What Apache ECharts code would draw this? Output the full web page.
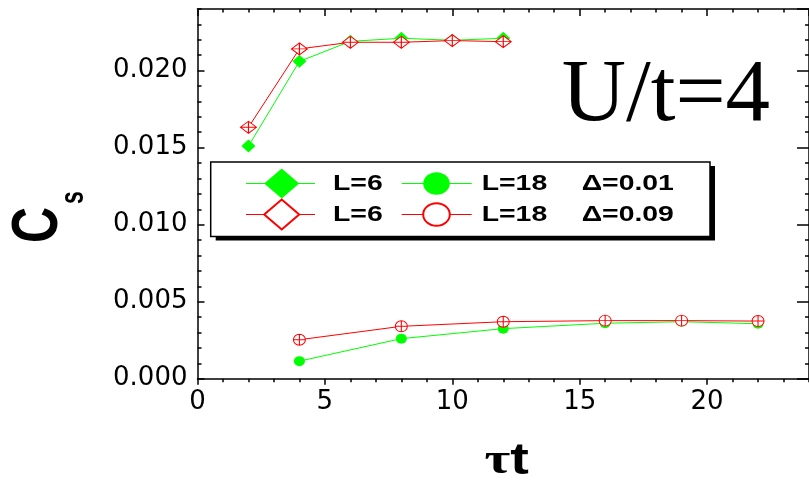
<!DOCTYPE html>
<html>
<head>
<meta charset="utf-8">
<script src="https://cdn.jsdelivr.net/npm/echarts@6/dist/echarts.min.js"></script>
<style>
  html, body { margin: 0; padding: 0; background: #fff; }
  #chart { width: 809px; height: 481px; }
</style>
</head>
<body>
<div id="chart"></div>
<script>
// Imaginary-time steps (tau*t) for the two lattice sizes
const tauL6  = [2, 4, 6, 8, 10, 12];
const tauL18 = [4, 8, 12, 16, 19, 22];

// Pairing correlation C_s, L=6
const csL6Delta001 = [0.0151, 0.0206, 0.0219, 0.0221, 0.02197, 0.0221];
const csL6Delta009 = [0.01632, 0.02141, 0.02184, 0.02184, 0.02195, 0.02188];

// Pairing correlation C_s, L=18
const csL18Delta001 = [0.00114, 0.0026, 0.00325, 0.0036, 0.0037, 0.00357];
const csL18Delta009 = [0.00253, 0.0034, 0.0037, 0.00377, 0.00377, 0.00374];

// Legend text
const sizeLabels  = ['L=6', 'L=18'];
const deltaLabels = ['\u0394=0.01', '\u0394=0.09'];
const annotation  = 'U/t=4';

const GREEN = '#00ff00';
const RED = '#ff0000';
const LABEL_FONT = 'DejaVu Sans';

const xMin = 0, xMax = 24, yMin = 0, yMax = 0.024;

function pairs(xs, ys) { return xs.map((x, i) => [x, ys[i]]); }

function xAxisDef(position, interval, tickLen, inside, labels, line) {
  return {
    type: 'value', position, min: xMin, max: xMax, interval,
    axisLine: { show: line, onZero: false, lineStyle: { color: '#000', width: 1.5 } },
    axisTick: { show: true, inside, length: tickLen, lineStyle: { color: '#000', width: 1.5 } },
    axisLabel: labels ? {
      show: true, margin: 11, color: '#000', fontFamily: LABEL_FONT, fontSize: 26,
      showMaxLabel: false,
      formatter: v => (Math.abs(v % 5) < 1e-9 ? String(v) : '')
    } : { show: false },
    splitLine: { show: false }
  };
}

function yAxisDef(position, interval, tickLen, labels, line) {
  return {
    type: 'value', position, min: yMin, max: yMax, interval,
    axisLine: { show: line, onZero: false, lineStyle: { color: '#000', width: 1.5 } },
    axisTick: { show: true, inside: true, length: tickLen, lineStyle: { color: '#000', width: 1.5 } },
    axisLabel: labels ? {
      show: true, margin: 10, color: '#000', fontFamily: LABEL_FONT, fontSize: 26,
      padding: [0, 0, 4, 0],
      showMaxLabel: false,
      formatter: v => {
        const k = Math.round(v / 0.005);
        return Math.abs(v - k * 0.005) < 1e-9 ? v.toFixed(3) : '';
      }
    } : { show: false },
    splitLine: { show: false }
  };
}

// Symbol outlines with an inner cross (error-bar look)
const diamondCross = 'path://M8,0 L16,6 L8,12 L0,6 Z M0,6 L16,6 M8,0 L8,12';
const circleCross  = 'path://M0,6 A6,6 0 1 1 12,6 A6,6 0 1 1 0,6 Z M0,6 L12,6 M6,0 L6,12';

const chart = echarts.init(document.getElementById('chart'), null, { renderer: 'canvas' });

// Legend, drawn as a framed box with a drop shadow
const legX = 210.7, legY = 162, legW = 499.3, legH = 74.5;
const rowY = [183.5, 214.5];
const legendFont = 'bold 22px "Liberation Sans", Arial, sans-serif';
const legendGraphics = [
  { type: 'rect', z: 100, shape: { x: legX + 5, y: legY + 4, width: legW, height: legH }, style: { fill: '#000' } },
  { type: 'rect', z: 101, shape: { x: legX, y: legY, width: legW, height: legH }, style: { fill: '#fff', stroke: '#000', lineWidth: 1.5 } }
];
[GREEN, RED].forEach((c, r) => {
  const y = rowY[r];
  const filled = r === 0;
  // first column: diamond marker for L=6
  legendGraphics.push({ type: 'line', z: 102, shape: { x1: 246, y1: y, x2: 315, y2: y }, style: { stroke: c, lineWidth: 1 } });
  legendGraphics.push({ type: 'polygon', z: 103,
    shape: { points: [[281.7, y - 15], [299.2, y], [281.7, y + 15], [264.2, y]] },
    style: filled ? { fill: c } : { fill: '#fff', stroke: c, lineWidth: 2 } });
  legendGraphics.push({ type: 'text', z: 103, x: 333, y: y, scaleX: 1.29,
    style: { text: sizeLabels[0], font: legendFont, fill: '#000', align: 'left', verticalAlign: 'middle' } });
  // second column: circle marker for L=18
  legendGraphics.push({ type: 'line', z: 102, shape: { x1: 401.7, y1: y, x2: 471.7, y2: y }, style: { stroke: c, lineWidth: 1 } });
  legendGraphics.push({ type: 'ellipse', z: 103,
    shape: { cx: 436.5, cy: y, rx: 13.3, ry: 11.3 },
    style: filled ? { fill: c } : { fill: '#fff', stroke: c, lineWidth: 2 } });
  legendGraphics.push({ type: 'text', z: 103, x: 481.7, y: y, scaleX: 1.29,
    style: { text: sizeLabels[1], font: legendFont, fill: '#000', align: 'left', verticalAlign: 'middle' } });
  // third column: pairing amplitude
  legendGraphics.push({ type: 'text', z: 103, x: 581.7, y: y, scaleX: 1.29,
    style: { text: deltaLabels[r], font: legendFont, fill: '#000', align: 'left', verticalAlign: 'middle' } });
});

const option = {
  animation: false,
  backgroundColor: '#fff',
  grid: { left: 197.5, top: 9, right: -7.5, bottom: 102.3, containLabel: false },
  xAxis: [
    xAxisDef('bottom', 5, 6, false, true, true),
    xAxisDef('bottom', 1, 3.5, false, false, false),
    xAxisDef('top', 5, 7, true, false, true),
    xAxisDef('top', 1, 3.5, true, false, false)
  ],
  yAxis: [
    yAxisDef('left', 0.005, 7, true, true),
    yAxisDef('left', 0.001, 4, false, false),
    yAxisDef('right', 0.005, 12, false, true),
    yAxisDef('right', 0.001, 4, false, false)
  ],
  series: [
    { name: 'L=6 \u0394=0.01', type: 'line', data: pairs(tauL6, csL6Delta001),
      symbol: 'diamond', symbolSize: [14, 13],
      itemStyle: { color: GREEN }, lineStyle: { color: GREEN, width: 1 }, z: 2 },
    { name: 'L=18 \u0394=0.01', type: 'line', data: pairs(tauL18, csL18Delta001),
      symbol: 'circle', symbolSize: [11, 10],
      itemStyle: { color: GREEN }, lineStyle: { color: GREEN, width: 1 }, z: 2 },
    { name: 'L=6 \u0394=0.09', type: 'line', data: pairs(tauL6, csL6Delta009),
      symbol: diamondCross, symbolSize: [16, 12],
      itemStyle: { color: '#fff', borderColor: RED, borderWidth: 1 },
      lineStyle: { color: RED, width: 1 }, z: 3 },
    { name: 'L=18 \u0394=0.09', type: 'line', data: pairs(tauL18, csL18Delta009),
      symbol: circleCross, symbolSize: [12, 11],
      itemStyle: { color: '#fff', borderColor: RED, borderWidth: 1 },
      lineStyle: { color: RED, width: 1 }, z: 3 }
  ],
  graphic: [
    // axis titles
    { type: 'text', x: 39, y: 225, rotation: Math.PI / 2, scaleY: 1.3,
      style: { text: 'C', font: 'bold 50px "Liberation Sans", Arial, sans-serif', fill: '#000', align: 'center', verticalAlign: 'middle' } },
    { type: 'text', x: 74, y: 197.5, rotation: Math.PI / 2, scaleY: 1.45,
      style: { text: 's', font: 'bold 23px "Liberation Sans", Arial, sans-serif', fill: '#000', align: 'center', verticalAlign: 'middle' } },
    { type: 'text', x: 506.7, y: 462, scaleX: 1.27,
      style: {
        text: '{tau|\u03c4}{t|t}', align: 'center', verticalAlign: 'middle',
        rich: {
          tau: { font: 'bold 44px "Liberation Serif", serif', fill: '#000' },
          t: { font: 'bold 44px "Liberation Sans", Arial, sans-serif', fill: '#000' }
        }
      } },
    // interaction strength annotation
    { type: 'text', x: 561.7, y: 97,
      style: { text: annotation, font: '89px "Liberation Serif", "Times New Roman", serif', fill: '#000', align: 'left', verticalAlign: 'middle' } }
  ].concat(legendGraphics)
};

chart.setOption(option);
</script>
</body>
</html>
